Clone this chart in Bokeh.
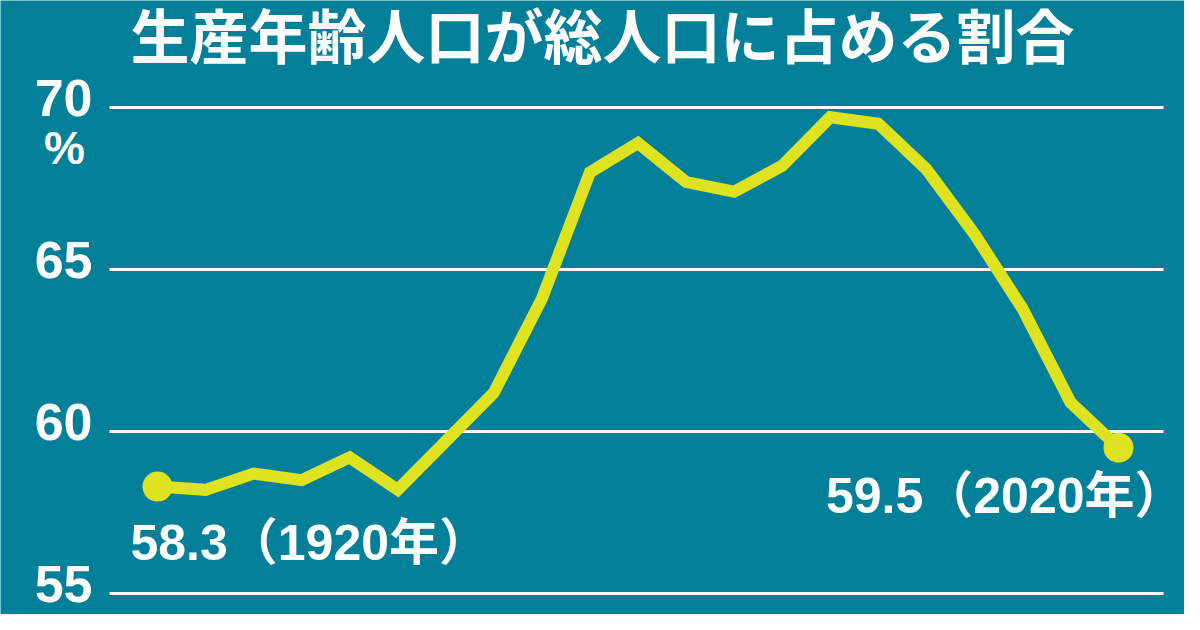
from bokeh.plotting import figure
from bokeh.models import Range1d, Label
from bokeh.core.properties import value
from bokeh.embed import file_html
from bokeh.resources import INLINE

# ---- data ----
years = [1920, 1925, 1930, 1935, 1940, 1945, 1950, 1955, 1960, 1965, 1970,
         1975, 1980, 1985, 1990, 1995, 2000, 2005, 2010, 2015, 2020]
share = [58.3, 58.2, 58.7, 58.5, 59.2, 58.2, 59.7, 61.2, 64.1, 68.0, 68.9,
         67.7, 67.4, 68.2, 69.7, 69.5, 68.1, 66.1, 63.8, 60.9, 59.5]
y_ticks = [55, 60, 65, 70]
y_tick_labels = ["55", "60", "65", "70"]
end_years = [1920, 2020]
end_values = [58.3, 59.5]
end_labels = ["58.3（1920年）", "59.5（2020年）"]
title_text = "生産年齢人口が総人口に占める割合"
unit_text = "%"

BG = "#02809A"
LINE = "#DEE21F"
W, H = 1184, 614

# pixel <-> data mapping (figure pixels)
X_PER_PX = 1 / 9.61
Y_PER_PX = 1 / 32.4
def px2x(px):
    return 1920 + (px - 157) * X_PER_PX
def py2y(py):
    return 70 - (py - 107) * Y_PER_PX

p = figure(width=W, height=H, output_backend="svg", toolbar_location=None,
           x_range=Range1d(px2x(0), px2x(W)),
           y_range=Range1d(py2y(H), py2y(0)),
           min_border=0)
p.axis.visible = False
p.grid.visible = False
p.outline_line_color = None
p.background_fill_color = BG
p.border_fill_color = BG

# gridlines
gx0, gx1 = px2x(109), px2x(1163)
p.segment(x0=[gx0] * len(y_ticks), x1=[gx1] * len(y_ticks), y0=y_ticks, y1=y_ticks,
          line_color="white", line_width=3)

# tick labels
tick_font = "'Liberation Sans Narrow', 'Liberation Sans', sans-serif"
p.text(x=[px2x(92)] * len(y_ticks), y=y_ticks, text=y_tick_labels,
       text_font=value(tick_font),
       text_font_size="52px", text_font_style="bold", text_color="white",
       text_align="right", text_baseline="middle", y_offset=-10)

p.add_layout(Label(x=64, y=H - 147, x_units="screen", y_units="screen",
                   text=unit_text, text_color="white", text_font_size="46px",
                   text_font=tick_font,
                   text_font_style="bold", text_align="center", text_baseline="middle"))

# main line
p.line(years, share, line_color=LINE, line_width=12, line_join="miter")
p.scatter(end_years, end_values, size=30, fill_color=LINE, line_color=None)

# end annotations
ann_font = "'Liberation Sans', 'Noto Sans CJK JP', sans-serif"
p.add_layout(Label(x=end_years[0], y=end_values[0], text=end_labels[0],
                   x_offset=-27, y_offset=-56, text_color="white",
                   text_font=ann_font, text_font_size="50px", text_font_style="bold",
                   text_align="left", text_baseline="middle"))
p.add_layout(Label(x=end_years[1], y=end_values[1], text=end_labels[1],
                   x_offset=66, y_offset=-48, text_color="white",
                   text_font=ann_font, text_font_size="50px", text_font_style="bold",
                   text_align="right", text_baseline="middle"))

# title
p.add_layout(Label(x=130, y=H - 38, x_units="screen", y_units="screen",
                   text=title_text, text_color="white",
                   text_font="'Liberation Sans', 'Noto Sans CJK JP', sans-serif",
                   text_font_size="59px",
                   text_font_style="bold", text_align="left", text_baseline="alphabetic"))

open("out.html", "w").write(file_html(p, INLINE))
